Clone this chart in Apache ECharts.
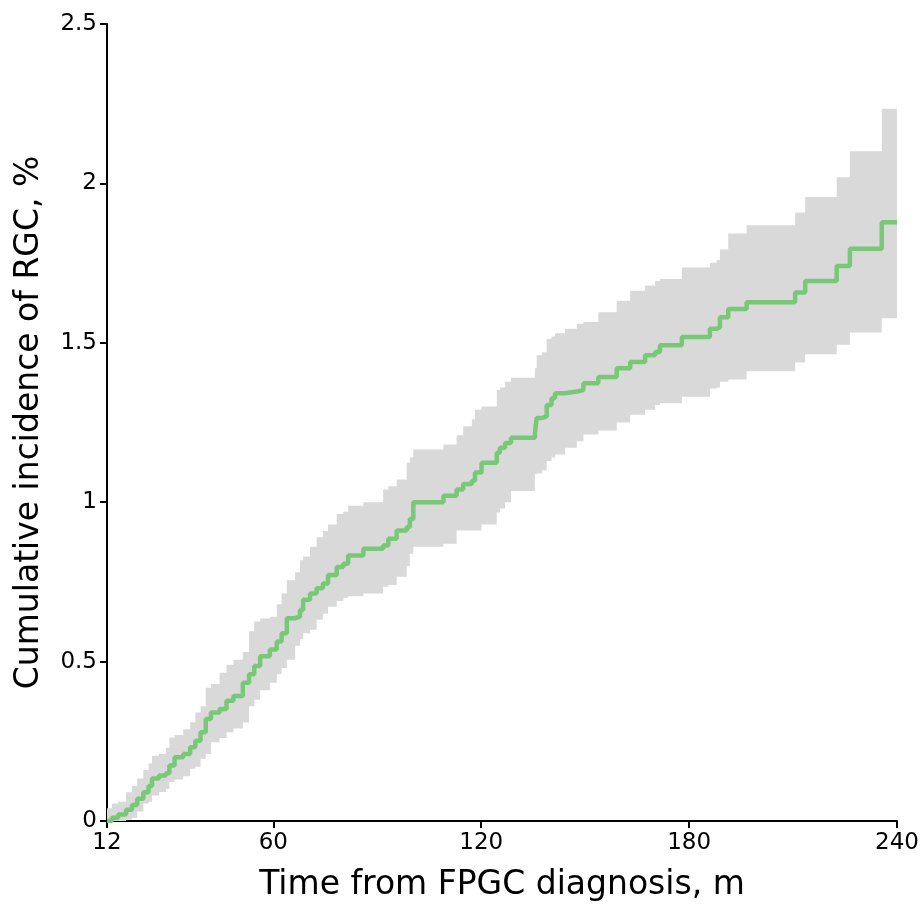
<!DOCTYPE html>
<html><head><meta charset="utf-8">
<script src="https://cdn.jsdelivr.net/npm/echarts@6/dist/echarts.min.js"></script>
<style>html,body{margin:0;padding:0;background:#fff}#c{width:922px;height:907px}</style>
</head><body><div id="c"></div>
<script>
const months = [12.0,13.4,15.2,17.5,19.2,20.7,22.5,24.0,25.0,27.0,29.0,30.0,31.5,34.0,36.0,37.5,39.0,40.5,42.0,44.5,46.5,48.5,51.2,53.0,54.5,56.2,59.0,61.0,62.4,63.9,66.3,67.7,68.6,70.6,72.5,74.3,75.8,78.3,80.2,81.6,86.0,91.7,93.2,95.6,98.5,99.4,100.4,109.1,112.9,114.8,117.3,118.2,120.1,124.5,125.4,126.9,128.6,135.5,136.0,137.5,138.9,140.3,141.3,144.2,147.6,149.5,153.8,159.1,163.0,167.3,170.2,171.6,177.9,186.0,188.0,188.9,191.3,196.6,210.6,213.5,222.6,226.4,235.6,240.0];
const incidence = [0,0.01,0.02,0.035,0.05,0.07,0.09,0.11,0.133,0.143,0.15,0.174,0.2,0.21,0.231,0.252,0.278,0.32,0.34,0.351,0.377,0.392,0.434,0.46,0.486,0.517,0.538,0.563,0.589,0.636,0.641,0.662,0.694,0.714,0.73,0.745,0.772,0.797,0.807,0.833,0.854,0.864,0.885,0.911,0.922,0.947,1.0,1.02,1.04,1.057,1.067,1.093,1.124,1.155,1.171,1.186,1.202,1.217,1.264,1.269,1.305,1.326,1.342,1.347,1.352,1.373,1.393,1.42,1.44,1.461,1.471,1.492,1.518,1.544,1.549,1.58,1.606,1.627,1.658,1.694,1.741,1.795,1.878,1.878];
const lowerCI = [0,0,0,0.005,0.01,0.03,0.055,0.06,0.08,0.091,0.1,0.122,0.13,0.14,0.164,0.17,0.195,0.21,0.247,0.26,0.278,0.29,0.309,0.36,0.38,0.41,0.434,0.46,0.48,0.506,0.55,0.57,0.589,0.6,0.631,0.65,0.672,0.69,0.7,0.705,0.714,0.735,0.74,0.766,0.8,0.838,0.86,0.87,0.911,0.911,0.911,0.911,0.93,0.968,0.98,1.0,1.035,1.088,1.09,1.1,1.129,1.14,1.15,1.171,1.191,1.212,1.225,1.25,1.274,1.29,1.305,1.31,1.331,1.357,1.36,1.378,1.385,1.411,1.438,1.464,1.494,1.532,1.577,1.577];
const upperCI = [0.04,0.055,0.06,0.09,0.11,0.133,0.16,0.18,0.205,0.21,0.23,0.262,0.27,0.288,0.31,0.34,0.36,0.418,0.43,0.465,0.49,0.506,0.53,0.595,0.626,0.635,0.641,0.68,0.714,0.755,0.78,0.818,0.83,0.86,0.89,0.91,0.93,0.963,0.97,0.989,1.0,1.04,1.05,1.071,1.124,1.14,1.165,1.181,1.21,1.238,1.26,1.29,1.3,1.352,1.36,1.378,1.39,1.42,1.461,1.47,1.513,1.52,1.53,1.544,1.56,1.565,1.596,1.632,1.663,1.68,1.694,1.7,1.736,1.751,1.76,1.793,1.843,1.869,1.909,1.957,2.019,2.101,2.234,2.234];
const xTickValues = [12, 60, 120, 180, 240];
const yTickValues = [0, 0.5, 1, 1.5, 2, 2.5];

const chart = echarts.init(document.getElementById('c'), null, {renderer: 'canvas'});
const estData = months.map((m, i) => [m, incidence[i]]);

function renderBand(params, api) {
  const top = [], bot = [];
  for (let i = 0; i < months.length; i++) {
    const x0 = months[i];
    const x1 = i + 1 < months.length ? months[i + 1] : months[i];
    top.push(api.coord([x0, upperCI[i]]), api.coord([x1, upperCI[i]]));
    bot.push(api.coord([x0, lowerCI[i]]), api.coord([x1, lowerCI[i]]));
  }
  return {type: 'polygon', shape: {points: top.concat(bot.reverse())}, style: {fill: '#D9D9D9'}};
}

const axisFont = {fontFamily: 'DejaVu Sans', fontSize: 23, color: '#000'};
const titleFont = {fontFamily: 'DejaVu Sans', fontSize: 33, color: '#000'};

chart.setOption({
  animation: false,
  backgroundColor: '#fff',
  grid: {left: 107, right: 25, top: 24, bottom: 81, containLabel: false},
  xAxis: {
    type: 'value', min: 12, max: 240,
    name: 'Time from FPGC diagnosis, m', nameLocation: 'middle', nameGap: 48,
    nameTextStyle: titleFont,
    axisLine: {show: true, onZero: false, lineStyle: {color: '#000', width: 2}},
    axisTick: {show: true, customValues: xTickValues, length: 7, lineStyle: {color: '#000', width: 2}},
    axisLabel: Object.assign({customValues: xTickValues, margin: 11}, axisFont),
    splitLine: {show: false}
  },
  yAxis: {
    type: 'value', min: 0, max: 2.5, interval: 0.5,
    name: 'Cumulative incidence of RGC, %', nameLocation: 'middle', nameGap: 61,
    nameTextStyle: titleFont,
    axisLine: {show: true, lineStyle: {color: '#000', width: 2}},
    axisTick: {show: true, customValues: yTickValues, length: 7, lineStyle: {color: '#000', width: 2}},
    axisLabel: Object.assign({customValues: yTickValues, margin: 10}, axisFont),
    splitLine: {show: false}
  },
  series: [
    {type: 'custom', renderItem: renderBand, data: [[12, 0]], silent: true, z: 1},
    {type: 'line', step: 'end', data: estData, showSymbol: false, silent: true, z: 3,
     lineStyle: {color: '#78C878', width: 4.5}}
  ]
});
</script></body></html>
